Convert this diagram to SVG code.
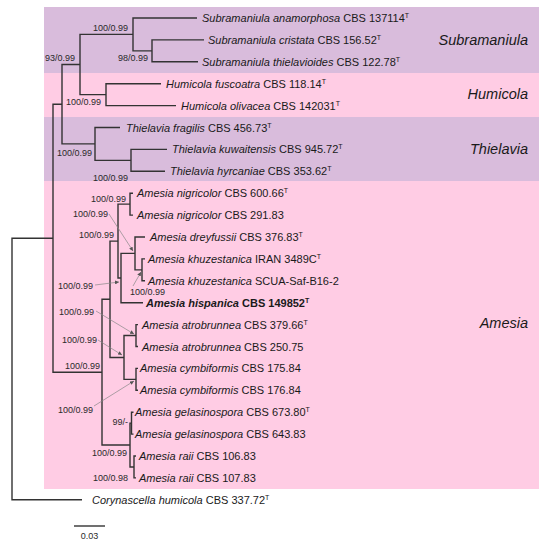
<svg xmlns="http://www.w3.org/2000/svg" width="550" height="544" viewBox="0 0 550 544">
<defs>
<style>
text{font-family:"Liberation Sans",Arial,sans-serif;fill:#1a1a1a}
.leaf{font-size:11px}
.sp{font-style:italic}
.sup{font-size:7px}
.bs{font-size:9px;fill:#2a2a2a}
.clade{font-size:14.5px;font-style:italic;text-anchor:end}
.br{fill:none;stroke:#333;stroke-width:1.4}
.co{fill:none;stroke:#888;stroke-width:0.7;marker-end:url(#ah)}
</style>
<marker id="ah" viewBox="0 0 6 6" refX="6" refY="3" markerWidth="4" markerHeight="4" orient="auto" markerUnits="userSpaceOnUse"><path d="M0,0 L6,3 L0,6 z" fill="#555"/></marker>
</defs>
<rect width="550" height="544" fill="#fff"/>
<g id="bands">
<rect x="44" y="7" width="495" height="66" fill="#d9bcdc"/>
<rect x="44" y="73" width="495" height="44" fill="#ffcce4"/>
<rect x="44" y="117" width="495" height="64" fill="#d9bcdc"/>
<rect x="44" y="181" width="495" height="308" fill="#ffcce4"/>
</g>
<g id="clade-labels">
<text id="cl-sub" class="clade" x="528" y="45">Subramaniula</text>
<text id="cl-hum" class="clade" x="528" y="99">Humicola</text>
<text id="cl-thi" class="clade" x="528" y="154">Thielavia</text>
<text id="cl-ame" class="clade" x="528" y="328">Amesia</text>
</g>
<g id="connectors">
<path class="br" d="M197 18 H133 V50.85 H152"/>
<path class="br" d="M204 39.9 H152 V61.8 H198"/>
<path class="br" d="M161 83.7 H106 V105.6 H176"/>
<path class="br" d="M133 34.4 H80 V94.65 H106"/>
<path class="br" d="M167 149.4 H131 V171.3 H165"/>
<path class="br" d="M120 127.5 H95 V160.35 H131"/>
<path class="br" d="M80 64.5 H62 V143.9 H95"/>
<path class="br" d="M62 104.2 H53 V372.2 H102"/>
<path class="br" d="M53 238.2 H12 V499.8 H82"/>
<path class="br" d="M133 193.2 H130 V215.1 H133"/>
<path class="br" d="M145 258.9 H142 V280.8 H145"/>
<path class="br" d="M145 237 H135 V269.85 H142"/>
<path class="br" d="M135 253.4 H121 V302.7 H143"/>
<path class="br" d="M130 204.15 H118 V278 H121"/>
<path class="br" d="M138 324.6 H136 V346.5 H138"/>
<path class="br" d="M138 368.4 H136 V390.3 H138"/>
<path class="br" d="M136 335.55 H124 V379.35 H136"/>
<path class="br" d="M118 241.1 H110 V357.45 H124"/>
<path class="br" d="M133.5 412.2 H131.5 V434.1 H133.5"/>
<path class="br" d="M136 456 H134 V477.9 H136"/>
<path class="br" d="M131.5 423.15 H130 V466.95 H134"/>
<path class="br" d="M110 299.3 H102 V445.05 H130"/>
<path class="co" d="M109 214 L133 251"/>
<path class="co" d="M95 285 L119 282"/>
<path class="co" d="M133 286 L141 272"/>
<path class="co" d="M96 311 L134 334"/>
<path class="co" d="M98 340 L122 355"/>
<path class="co" d="M94 406 L134 381"/>
<path class="br" d="M74 526 H105"/>
</g>
<g id="support">
<text class="bs" x="128" y="31" text-anchor="end">100/0.99</text>
<text class="bs" x="148" y="61" text-anchor="end">98/0.99</text>
<text class="bs" x="101" y="105" text-anchor="end">100/0.99</text>
<text class="bs" x="45" y="61">93/0.99</text>
<text class="bs" x="92" y="156" text-anchor="end">100/0.99</text>
<text class="bs" x="128" y="181" text-anchor="end">100/0.99</text>
<text class="bs" x="126" y="202" text-anchor="end">100/0.99</text>
<text class="bs" x="108" y="217" text-anchor="end">100/0.99</text>
<text class="bs" x="114" y="238" text-anchor="end">100/0.99</text>
<text class="bs" x="93" y="289" text-anchor="end">100/0.99</text>
<text class="bs" x="130" y="295">100/0.99</text>
<text class="bs" x="94" y="315" text-anchor="end">100/0.99</text>
<text class="bs" x="97" y="343" text-anchor="end">100/0.99</text>
<text class="bs" x="100" y="369" text-anchor="end">100/0.99</text>
<text class="bs" x="93" y="413" text-anchor="end">100/0.99</text>
<text class="bs" x="128" y="425" text-anchor="end">99/-</text>
<text class="bs" x="127" y="456" text-anchor="end">100/0.99</text>
<text class="bs" x="128" y="481" text-anchor="end">100/0.98</text>
<text class="bs" x="89.5" y="539" text-anchor="middle">0.03</text>
</g>
<g id="leaf-s-anamorphosa"><text class="leaf" x="202" y="22"><tspan class="sp">Subramaniula anamorphosa</tspan> CBS 137114<tspan class="sup" dy="-4">T</tspan></text></g>
<g id="leaf-s-cristata"><text class="leaf" x="208" y="44"><tspan class="sp">Subramaniula cristata</tspan> CBS 156.52<tspan class="sup" dy="-4">T</tspan></text></g>
<g id="leaf-s-thielavioides"><text class="leaf" x="202" y="66"><tspan class="sp">Subramaniula thielavioides</tspan> CBS 122.78<tspan class="sup" dy="-4">T</tspan></text></g>
<g id="leaf-h-fuscoatra"><text class="leaf" x="166" y="88"><tspan class="sp">Humicola fuscoatra</tspan> CBS 118.14<tspan class="sup" dy="-4">T</tspan></text></g>
<g id="leaf-h-olivacea"><text class="leaf" x="181" y="110"><tspan class="sp">Humicola olivacea</tspan> CBS 142031<tspan class="sup" dy="-4">T</tspan></text></g>
<g id="leaf-t-fragilis"><text class="leaf" x="126" y="131.5"><tspan class="sp">Thielavia fragilis</tspan> CBS 456.73<tspan class="sup" dy="-4">T</tspan></text></g>
<g id="leaf-t-kuwaitensis"><text class="leaf" x="172" y="153.4"><tspan class="sp">Thielavia kuwaitensis</tspan> CBS 945.72<tspan class="sup" dy="-4">T</tspan></text></g>
<g id="leaf-t-hyrcaniae"><text class="leaf" x="170" y="175.3"><tspan class="sp">Thielavia hyrcaniae</tspan> CBS 353.62<tspan class="sup" dy="-4">T</tspan></text></g>
<g id="leaf-a-nigricolor1"><text class="leaf" x="137" y="197.2"><tspan class="sp">Amesia nigricolor</tspan> CBS 600.66<tspan class="sup" dy="-4">T</tspan></text></g>
<g id="leaf-a-nigricolor2"><text class="leaf" x="137" y="219.1"><tspan class="sp">Amesia nigricolor</tspan> CBS 291.83</text></g>
<g id="leaf-a-dreyfussii"><text class="leaf" x="150" y="241"><tspan class="sp">Amesia dreyfussii</tspan> CBS 376.83<tspan class="sup" dy="-4">T</tspan></text></g>
<g id="leaf-a-khuz1"><text class="leaf" x="148" y="262.9"><tspan class="sp">Amesia khuzestanica</tspan> IRAN 3489C<tspan class="sup" dy="-4">T</tspan></text></g>
<g id="leaf-a-khuz2"><text class="leaf" x="148" y="284.8"><tspan class="sp">Amesia khuzestanica</tspan> SCUA-Saf-B16-2</text></g>
<g id="leaf-a-hispanica"><text class="leaf" x="146" y="306.7" font-weight="bold"><tspan class="sp">Amesia hispanica</tspan> CBS 149852<tspan class="sup" dy="-4">T</tspan></text></g>
<g id="leaf-a-atro1"><text class="leaf" x="142" y="328.6"><tspan class="sp">Amesia atrobrunnea</tspan> CBS 379.66<tspan class="sup" dy="-4">T</tspan></text></g>
<g id="leaf-a-atro2"><text class="leaf" x="142" y="350.5"><tspan class="sp">Amesia atrobrunnea</tspan> CBS 250.75</text></g>
<g id="leaf-a-cymb1"><text class="leaf" x="140" y="372.4"><tspan class="sp">Amesia cymbiformis</tspan> CBS 175.84</text></g>
<g id="leaf-a-cymb2"><text class="leaf" x="140" y="394.3"><tspan class="sp">Amesia cymbiformis</tspan> CBS 176.84</text></g>
<g id="leaf-a-gelas1"><text class="leaf" x="135" y="416.2"><tspan class="sp">Amesia gelasinospora</tspan> CBS 673.80<tspan class="sup" dy="-4">T</tspan></text></g>
<g id="leaf-a-gelas2"><text class="leaf" x="135" y="438.1"><tspan class="sp">Amesia gelasinospora</tspan> CBS 643.83</text></g>
<g id="leaf-a-raii1"><text class="leaf" x="139" y="460"><tspan class="sp">Amesia raii</tspan> CBS 106.83</text></g>
<g id="leaf-a-raii2"><text class="leaf" x="139" y="481.9"><tspan class="sp">Amesia raii</tspan> CBS 107.83</text></g>
<g id="leaf-c-humicola"><text class="leaf" x="92" y="503.8"><tspan class="sp">Corynascella humicola</tspan> CBS 337.72<tspan class="sup" dy="-4">T</tspan></text></g>
</svg>
